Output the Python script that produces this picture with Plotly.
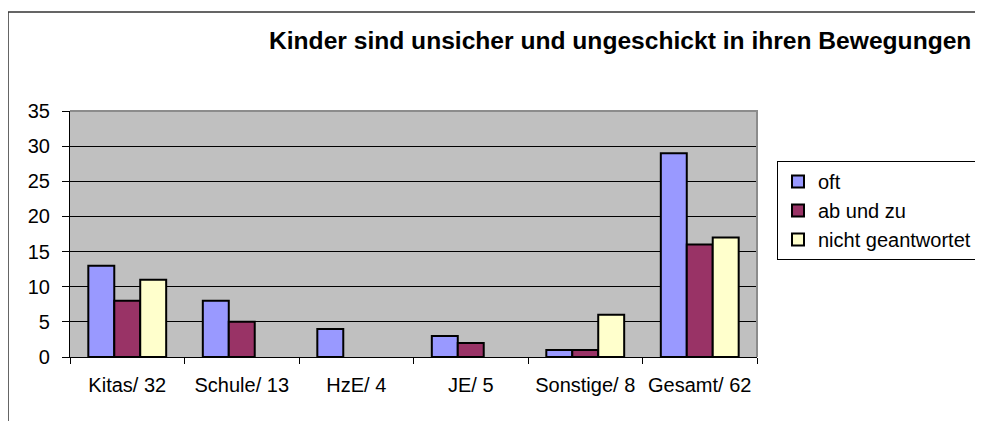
import plotly.graph_objects as go

categories = ["Kitas/ 32", "Schule/ 13", "HzE/ 4", "JE/ 5", "Sonstige/ 8", "Gesamt/ 62"]
oft = [13, 8, 4, 3, 1, 29]
ab_und_zu = [8, 5, 0, 2, 1, 16]
nicht_geantwortet = [11, 0, 0, 0, 6, 17]
series_names = ["oft", "ab und zu", "nicht geantwortet"]
series_colors = ["#9999FF", "#993366", "#FFFFCC"]
y_ticks = [0, 5, 10, 15, 20, 25, 30, 35]
title_text = "Kinder sind unsicher und ungeschickt in ihren Bewegungen"

W, H = 983, 421
OFF = 8  # page body margin offset
L, R, T, B = 70 - OFF, 757 - OFF, 111 - OFF, 357 - OFF  # plot area in figure pixels
pw, ph = R - L, B - T

FONT = "Liberation Sans, Arial, sans-serif"

fig = go.Figure()
for i, (name, vals) in enumerate(zip(series_names, [oft, ab_und_zu, nicht_geantwortet])):
    fig.add_trace(go.Bar(
        x=categories, y=[v if v else None for v in vals], name=name,
        marker=dict(color=series_colors[i], line=dict(color="black", width=2)),
        legendgroup=name,
    ))

def px_x(px):
    return (px - OFF - L) / pw

def px_y(py):
    return (B - (py - OFF)) / ph

shapes = [
    dict(type="path", xref="paper", yref="paper",
         path=f"M {px_x(8)} {px_y(440)} L {px_x(8)} {px_y(12)} L {px_x(1010)} {px_y(12)}",
         line=dict(color="#333333", width=1.5), layer="above"),
    dict(type="path", xref="paper", yref="paper",
         path="M 0 1 L 1 1 L 1 0",
         line=dict(color="#8c8c8c", width=2), layer="above"),
]

fig.update_layout(
    width=W, height=H,
    margin=dict(l=L, r=W - R, t=T, b=H - B, pad=0),
    paper_bgcolor="white",
    plot_bgcolor="#C0C0C0",
    barmode="group",
    bargap=0.32,
    bargroupgap=0,
    font=dict(family=FONT, size=20, color="black"),
    showlegend=True,
    legend=dict(
        x=px_x(777), xanchor="left",
        y=px_y(161), yanchor="top",
        bgcolor="white", bordercolor="black", borderwidth=1,
        font=dict(family=FONT, size=20, color="black"),
        tracegroupgap=0,
        itemclick=False,
    ),
    shapes=shapes,
    annotations=[dict(
        text=f"<b>{title_text}</b>", xref="paper", yref="paper",
        x=px_x(620), y=px_y(40), xanchor="center", yanchor="middle",
        showarrow=False, font=dict(family=FONT, size=24.6, color="black"),
    )],
)

fig.update_xaxes(
    type="category",
    showline=True, linecolor="black", linewidth=1.2,
    ticks="outside", ticklen=6, tickcolor="black", tickwidth=1,
    tickson="boundaries",
    showgrid=False,
    tickfont=dict(family=FONT, size=20, color="black"),
    ticklabelstandoff=10,
)
fig.update_yaxes(
    range=[0, 35],
    tickvals=y_ticks,
    showline=True, linecolor="black", linewidth=1.2,
    ticks="outside", ticklen=7, tickcolor="black", tickwidth=1,
    showgrid=True, gridcolor="black", gridwidth=1,
    zeroline=False,
    tickfont=dict(family=FONT, size=20, color="black"),
    ticklabelstandoff=8,
)

fig.write_html("out.html")
